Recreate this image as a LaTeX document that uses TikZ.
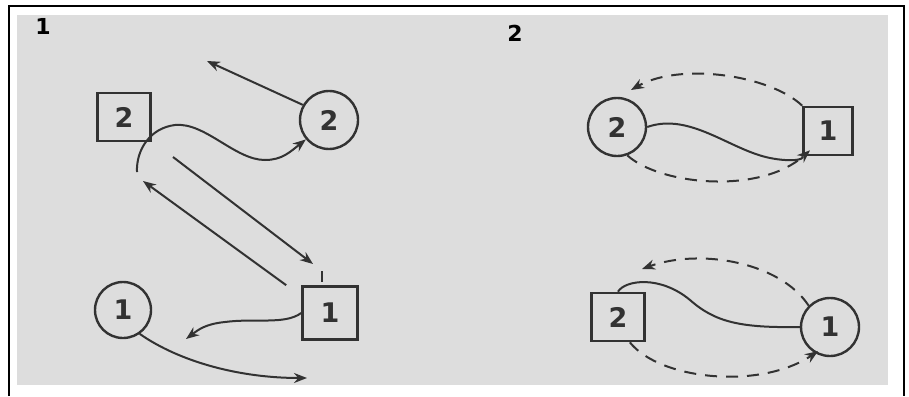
\documentclass[tikz,border=0pt]{standalone}
\usepackage{fontspec}
\setmainfont{DejaVu Sans}
\usetikzlibrary{arrows.meta}
\definecolor{panelgray}{RGB}{221,221,221}
\definecolor{ink}{RGB}{50,50,50}
\tikzset{
  box/.style={draw=ink, line width=2.6pt, minimum width=53pt, minimum height=48pt, inner sep=0pt, font=\fontsize{27}{27}\selectfont\bfseries, text=ink},
  ring/.style={draw=ink, line width=2.4pt, circle, minimum size=58pt, inner sep=0pt, font=\fontsize{27}{27}\selectfont\bfseries, text=ink},
  conn/.style={draw=ink, line width=2pt},
  arr/.style={conn, -{Stealth[length=13pt,width=10pt]}},
  darr/.style={arr, dash pattern=on 12pt off 9pt},
  plabel/.style={font=\fontsize{22}{22}\selectfont\bfseries, text=black}
}
\begin{document}
\begin{tikzpicture}[x=1pt,y=-1pt]
\useasboundingbox (0,0) rectangle (909,396);
\fill[white] (0,0) rectangle (909,396);
\fill[panelgray] (17,15) rectangle (888,385);
\draw[black, line width=1.5pt] (9,396) -- (9,6) -- (904,6) -- (904,396);
% panel labels
\node[plabel] (lab1) at (43,26) {1};
\node[plabel] (lab2) at (515,33) {2};
% panel 1 nodes
\node[box] (sqA2) at (124,117) {2};
\node[ring] (ciA2) at (329,120) {2};
\node[box, minimum width=55pt, minimum height=53pt] (sqA1) at (330,313) {1};
\node[ring, minimum size=56pt] (ciA1) at (123,310) {1};
% panel 2 nodes
\node[ring] (ciB2) at (617,127) {2};
\node[box, minimum width=49pt, minimum height=48pt] (sqB1) at (828,131) {1};
\node[box] (sqB2) at (618,317) {2};
\node[ring] (ciB1) at (830,327) {1};
% free ends
\coordinate (pA) at (207,61);
\coordinate (pB) at (137,172);
\coordinate (pC) at (173,157);
\coordinate (pD) at (313,264);
\coordinate (pE) at (143,181);
\coordinate (pF) at (186,339);
\coordinate (pG) at (307,378);
\coordinate (tickTop) at (322,271);
\coordinate (tickBot) at (322,282);
% panel 1 connectors
\draw[arr] (ciA2.150) -- (pA);
\draw[arr] (pB) .. controls (136,150) and (150,128) .. (175,125)
  .. controls (205,122) and (235,160) .. (265,160)
  .. controls (282,160) and (290,152) .. (ciA2.220);
\draw[arr] (pC) -- (pD);
\draw[conn] (tickTop) -- (tickBot);
\draw[arr] ([xshift=-15pt]sqA1.north west) -- (pE);
\draw[arr] (sqA1.west) .. controls (285,325) and (255,318) .. (225,322)
  .. controls (205,324) and (198,330) .. (pF);
\draw[arr] (ciA1.-55) .. controls (180,362) and (240,378) .. (pG);
% panel 2 connectors
\draw[conn] (ciB2.east) .. controls (690,112) and (730,150) .. (770,158)
  .. controls (790,162) and (805,160) .. (sqB1.south west);
\draw[darr] (sqB1.north west) .. controls (770,75) and (680,62) .. (631,90);
\draw[darr] (ciB2.-70) .. controls (660,185) and (760,195) .. ([xshift=-18pt,yshift=6pt]sqB1.south);
\draw[conn] (sqB2.north) .. controls (625,280) and (660,275) .. (690,300)
  .. controls (715,322) and (740,328) .. (ciB1.west);
\draw[darr] (ciB1.north west) .. controls (780,262) and (700,248) .. (642,269);
\draw[darr] (sqB2.-65) .. controls (660,380) and (760,390) .. ([xshift=-12pt,yshift=6pt]ciB1.south);
\end{tikzpicture}
\end{document}
